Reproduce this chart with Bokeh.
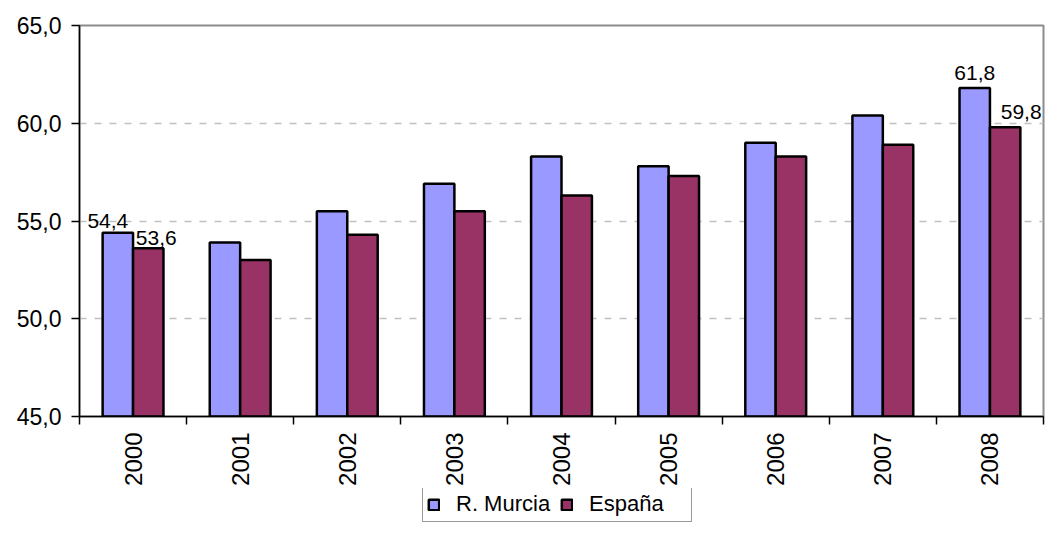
import numpy as np
from bokeh.plotting import figure
from bokeh.layouts import column
from bokeh.models import (ColumnDataSource, Range1d, FixedTicker, CustomJSTickFormatter,
                          Legend, LegendItem)
from bokeh.transform import dodge
from bokeh.core.properties import value
from bokeh.embed import file_html
from bokeh.resources import INLINE

# ---- data ----
years = ["2000", "2001", "2002", "2003", "2004", "2005", "2006", "2007", "2008"]
murcia = [54.4, 53.9, 55.5, 56.9, 58.3, 57.8, 59.0, 60.4, 61.8]
espana = [53.6, 53.0, 54.3, 55.5, 56.3, 57.3, 58.3, 58.9, 59.8]
series_names = ["R. Murcia", "España"]
labelled_years = ["2000", "2008"]
y_ticks = [45, 50, 55, 60, 65]

# ---- styling ----
FONT = "Liberation Sans"
C_MURCIA = "#9999FF"
C_ESPANA = "#993366"
BAR_W = 0.284
OFF = 0.142
# per-label screen offsets (murcia/espana for each labelled year)
label_dx = {("2000", 0): -10, ("2000", 1): 8, ("2008", 0): 0, ("2008", 1): 16}
label_dy = {("2000", 0): -12, ("2000", 1): -10, ("2008", 0): -15, ("2008", 1): -15}

xc = np.arange(len(years)) + 0.5
src = ColumnDataSource(dict(x=xc, year=years, murcia=murcia, espana=espana))

p = figure(width=1045, height=488, output_backend="svg", toolbar_location=None,
           x_range=Range1d(0, len(years)), y_range=Range1d(45, 65),
           min_border_left=79, min_border_right=2, min_border_top=25, min_border_bottom=72)
p.background_fill_color = "white"
p.border_fill_color = "white"
p.outline_line_color = "#8c8c8c"
p.outline_line_width = 2

bar_style = dict(line_color="black", line_width=2.5)
r1 = p.vbar(x=dodge("x", -OFF, range=p.x_range), top="murcia", bottom=45, width=BAR_W,
            source=src, fill_color=C_MURCIA, **bar_style)
r2 = p.vbar(x=dodge("x", OFF, range=p.x_range), top="espana", bottom=45, width=BAR_W,
            source=src, fill_color=C_ESPANA, **bar_style)

# data labels
lx, ly, lt, ldx, ldy = [], [], [], [], []
for yr in labelled_years:
    i = years.index(yr)
    for s, (vals, off) in enumerate([(murcia, -OFF), (espana, OFF)]):
        lx.append(xc[i] + off)
        ly.append(vals[i])
        lt.append(f"{vals[i]:.1f}".replace(".", ","))
        ldx.append(label_dx[(yr, s)])
        ldy.append(label_dy[(yr, s)])
lsrc = ColumnDataSource(dict(x=lx, y=ly, t=lt, dx=ldx, dy=ldy))
p.text(x="x", y="y", text="t", x_offset="dx", y_offset="dy", source=lsrc,
       text_font=value(FONT), text_font_size="21px", text_color="black",
       text_align="center", text_baseline="alphabetic")

# grid
p.xgrid.visible = False
p.ygrid.ticker = FixedTicker(ticks=y_ticks)
p.ygrid.grid_line_color = "#c0c0c0"
p.ygrid.grid_line_dash = "7 8"
p.ygrid.grid_line_width = 1.3

# y axis
ya = p.yaxis[0]
ya.ticker = FixedTicker(ticks=y_ticks)
ya.formatter = CustomJSTickFormatter(code="return tick.toFixed(1).replace('.', ',');")
ya.axis_line_color = "black"
ya.axis_line_width = 1.5
ya.major_tick_out = 8
ya.major_tick_in = 0
ya.major_tick_line_color = "black"
ya.major_tick_line_width = 1.5
ya.minor_tick_line_color = None
ya.major_label_text_font = FONT
ya.major_label_text_font_size = "23px"
ya.major_label_text_color = "black"
ya.major_label_standoff = 10

# x axis
xa = p.xaxis[0]
xa.ticker = FixedTicker(ticks=list(xc), minor_ticks=list(range(len(years) + 1)))
xa.formatter = CustomJSTickFormatter(args=dict(years=years),
                                     code="return years[Math.floor(tick)];")
xa.axis_line_color = "black"
xa.axis_line_width = 1.5
xa.major_tick_out = 0
xa.major_tick_in = 0
xa.minor_tick_out = 8
xa.minor_tick_in = 0
xa.minor_tick_line_color = "black"
xa.minor_tick_line_width = 1.5
xa.major_label_orientation = np.pi / 2
xa.major_label_text_font = FONT
xa.major_label_text_font_size = "24px"
xa.major_label_text_color = "black"
xa.major_label_standoff = 8

# legend strip (separate small figure so the legend is not clipped);
# its renderers use the real data but are hidden, only their legend swatches show
q = figure(width=1045, height=34, output_backend="svg", toolbar_location=None,
           x_range=Range1d(0, len(years)), y_range=Range1d(0, 1),
           min_border_left=0, min_border_right=0, min_border_top=0, min_border_bottom=0)
q.axis.visible = False
q.grid.visible = False
q.outline_line_color = None
q.background_fill_color = "white"
q.border_fill_color = "white"
k1 = q.vbar(x="x", top="murcia", bottom=45, width=BAR_W, source=src,
            fill_color=C_MURCIA, **bar_style)
k2 = q.vbar(x="x", top="espana", bottom=45, width=BAR_W, source=src,
            fill_color=C_ESPANA, **bar_style)
k1.visible = False
k2.visible = False
legend = Legend(items=[LegendItem(label=series_names[0], renderers=[k1]),
                       LegendItem(label=series_names[1], renderers=[k2])],
                orientation="horizontal", location=(343, 0),
                label_text_font=FONT, label_text_font_size="22px", label_text_color="black",
                glyph_width=13, glyph_height=13, label_standoff=16, spacing=6,
                label_width=98, padding=4, margin=0,
                inactive_fill_alpha=0,
                border_line_color="#333333", border_line_width=1,
                background_fill_color="white", background_fill_alpha=1)
q.add_layout(legend, "center")

open("out.html", "w").write(file_html(column(p, q, spacing=0), INLINE))
